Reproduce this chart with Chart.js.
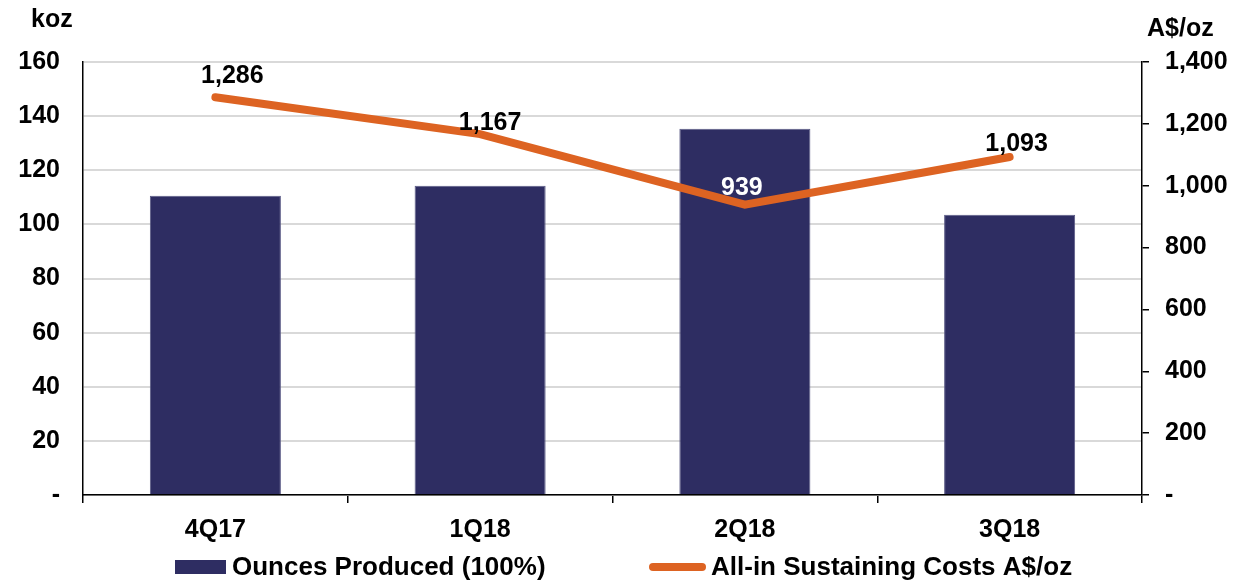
<!DOCTYPE html>
<html lang="en">
  <head>
    <meta charset="UTF-8" />
    <title>Ounces Produced and AISC</title>
    <style>
      html, body { margin: 0; padding: 0; background: #fff; }
      #wrap { position: relative; width: 1235px; height: 581px; }
    </style>
  </head>
  <body>
    <div id="wrap"><canvas id="myChart"></canvas></div>

    <script src="https://cdn.jsdelivr.net/npm/chart.js"></script>
    <script>
      // quarterly data
      const quarters = ["4Q17", "1Q18", "2Q18", "3Q18"];
      const ouncesProduced = [110.6, 114.3, 135.3, 103.6];
      const aiscPerOz = [1286, 1167, 939, 1093];
      const aiscLabelColors = ["#000", "#000", "#fff", "#000"];

      const FONT = "'Liberation Sans', Arial, sans-serif";
      const FONT_SIZE = 25;
      const NAVY = "#2E2D62";
      const ORANGE = "#DD6322";

      // unit titles above each axis
      const unitTitles = {
        id: "unitTitles",
        afterDraw(chart) {
          const c = chart.ctx;
          c.save();
          c.font = "bold " + FONT_SIZE + "px " + FONT;
          c.fillStyle = "#000";
          c.textBaseline = "middle";
          c.textAlign = "left";
          c.fillText("koz", 31, 20);
          c.fillText("A$/oz", 1147, 29);
          c.restore();
        },
      };

      // value labels over the cost line (small hand nudges so they clear the line)
      const labelNudge = [[17, -21], [10, -11], [-3, -16], [7, -13]];
      const lineLabels = {
        id: "lineLabels",
        afterDatasetsDraw(chart) {
          const meta = chart.getDatasetMeta(1);
          const c = chart.ctx;
          c.save();
          c.font = "bold " + FONT_SIZE + "px " + FONT;
          c.textAlign = "center";
          c.textBaseline = "middle";
          meta.data.forEach((pt, i) => {
            c.fillStyle = aiscLabelColors[i];
            c.fillText(
              aiscPerOz[i].toLocaleString("en-US"),
              pt.x + labelNudge[i][0],
              pt.y + labelNudge[i][1]
            );
          });
          c.restore();
        },
      };

      // legend row under the axis: bar swatch + line swatch, taken from the datasets
      const bottomLegend = {
        id: "bottomLegend",
        afterDraw(chart) {
          const c = chart.ctx;
          const [bars, line] = chart.data.datasets;
          const y = 567;
          c.save();
          c.font = "bold 26px " + FONT;
          c.textBaseline = "middle";
          c.textAlign = "left";

          c.fillStyle = bars.backgroundColor;
          c.fillRect(175, y - 7, 51, 14);
          c.fillStyle = "#000";
          c.fillText(bars.label, 232, y + 1);

          c.strokeStyle = line.borderColor;
          c.lineWidth = 8;
          c.lineCap = "round";
          c.beginPath();
          c.moveTo(653, y);
          c.lineTo(702, y);
          c.stroke();
          c.fillStyle = "#000";
          c.fillText(line.label, 711, y + 1);
          c.restore();
        },
      };

      const tickFont = { family: FONT, size: FONT_SIZE, weight: "bold" };

      const ctx = document.getElementById("myChart").getContext("2d");
      new Chart(ctx, {
        data: {
          labels: quarters,
          datasets: [
            {
              type: "bar",
              label: "Ounces Produced (100%)",
              data: ouncesProduced,
              backgroundColor: NAVY,
              borderColor: "#5a5a85",
              borderWidth: 1,
              categoryPercentage: 1,
              barPercentage: 0.495,
              yAxisID: "y",
              order: 2,
            },
            {
              type: "line",
              label: "All-in Sustaining Costs A$/oz",
              data: aiscPerOz,
              borderColor: ORANGE,
              backgroundColor: ORANGE,
              borderWidth: 8,
              borderCapStyle: "round",
              pointRadius: 0,
              tension: 0,
              yAxisID: "y1",
              order: 1,
            },
          ],
        },
        options: {
          responsive: true,
          maintainAspectRatio: false,
          animation: false,
          layout: { padding: { top: 62, left: 0, right: 0, bottom: 36 } },
          scales: {
            x: {
              afterFit(scale) { scale.height = 50; },
              grid: {
                offset: true,
                drawOnChartArea: false,
                color: "#000",
                lineWidth: 1.5,
                tickLength: 8,
              },
              border: { color: "#000", width: 1.5 },
              ticks: { color: "#000", font: tickFont, padding: 12 },
            },
            y: {
              position: "left",
              min: 0,
              max: 160,
              afterFit(scale) { scale.width = 83; },
              grid: { color: "#d9d9d9", lineWidth: 2, drawTicks: false },
              border: { color: "#000", width: 1.5 },
              ticks: {
                stepSize: 20,
                color: "#000",
                padding: 23,
                font: tickFont,
                callback: (v) => (v === 0 ? "-" : v),
              },
            },
            y1: {
              position: "right",
              min: 0,
              max: 1400,
              afterFit(scale) { scale.width = 93; },
              grid: {
                drawOnChartArea: false,
                color: "#000",
                lineWidth: 1.5,
                tickLength: 7,
              },
              border: { color: "#000", width: 1.5 },
              ticks: {
                stepSize: 200,
                color: "#000",
                padding: 16,
                font: tickFont,
                callback: (v) => (v === 0 ? "-" : v.toLocaleString("en-US")),
              },
            },
          },
          plugins: {
            title: { display: false },
            tooltip: { enabled: false },
            legend: { display: false },
          },
        },
        plugins: [unitTitles, lineLabels, bottomLegend],
      });
    </script>
  </body>
</html>
